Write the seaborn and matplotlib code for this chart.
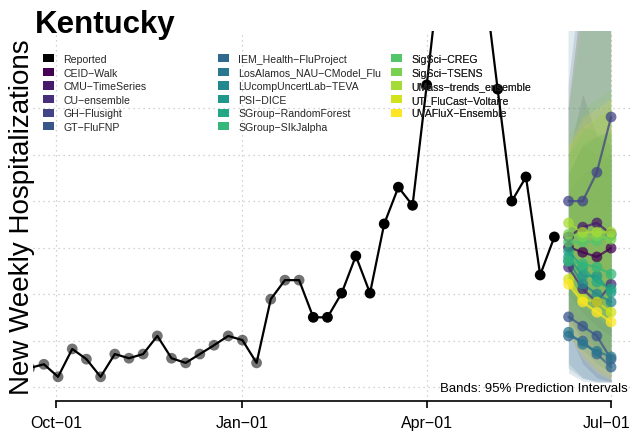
import numpy as np
import pandas as pd
import matplotlib
matplotlib.use("Agg")
import matplotlib.pyplot as plt
import matplotlib.dates as mdates
import matplotlib.transforms as mtransforms
from matplotlib.patches import Patch
import seaborn as sns

sns.set_theme(style="white")
plt.rcParams["font.family"] = ["Liberation Sans", "DejaVu Sans"]

# reported weekly hospitalizations (older weeks drawn faded)
report_dates = pd.date_range("2023-09-18", "2024-06-03", freq="7D")
reported = [141, 149, 122, 182, 160, 122, 171, 162, 171, 210,
            162, 152, 171, 190, 210, 201, 152, 289, 330, 330,
            250, 250, 302, 382, 302, 451, 530, 491, 750, 1020,
            1171, 1128, 990, 741, 500, 552, 341, 423]
n_faded = 20

models = ["CEID−Walk", "CMU−TimeSeries", "CU−ensemble", "GH−Flusight", "GT−FluFNP",
          "IEM_Health−FluProject", "LosAlamos_NAU−CModel_Flu", "LUcompUncertLab−TEVA",
          "PSI−DICE", "SGroup−RandomForest", "SGroup−SIkJalpha", "SigSci−CREG",
          "SigSci−TSENS", "UMass−trends_ensemble", "UT_FluCast−Voltaire", "UVAFluX−Ensemble"]

fc_dates = pd.to_datetime(["2024-06-10", "2024-06-17", "2024-06-24", "2024-07-01"])
fc_median = [
    [401, 390, 380, 399], [423, 444, 453, 429], [358, 311, 283, 321], [500, 500, 562, 681],
    [251, 231, 210, 160], [210, 199, 171, 143], [218, 192, 177, 165], [371, 322, 300, 283],
    [380, 339, 339, 304], [392, 358, 326, 311], [371, 365, 358, 343], [412, 412, 414, 425],
    [429, 423, 425, 418], [453, 433, 433, 433], [332, 289, 283, 261], [321, 283, 261, 240],
]
fc_lower = [
    [250, 200, 170, 150], [300, 260, 230, 210], [220, 150, 120, 110], [330, 280, 260, 250],
    [150, 120, 111, 111], [130, 113, 110, 110], [140, 118, 112, 112], [240, 180, 150, 130],
    [260, 210, 180, 160], [270, 220, 190, 170], [280, 240, 210, 190], [300, 270, 250, 240],
    [310, 280, 260, 240], [320, 280, 250, 230], [220, 170, 140, 120], [210, 160, 130, 115],
]
fc_upper = [
    [700, 950, 1100, 1300], [600, 730, 640, 620], [560, 620, 600, 600], [750, 1000, 1200, 1400],
    [560, 620, 640, 650], [520, 560, 580, 600], [900, 1000, 1100, 1200], [560, 620, 640, 650],
    [600, 650, 680, 700], [620, 660, 650, 640], [600, 640, 630, 620], [700, 900, 1000, 1100],
    [640, 700, 720, 740], [720, 950, 1000, 1100], [620, 660, 680, 700], [620, 680, 700, 720],
]

y_grid = [100, 200, 300, 400, 500, 600, 700]
x_ticks = pd.to_datetime(["2023-10-01", "2024-01-01", "2024-04-01", "2024-07-01"])
x_labels = ["Oct−01", "Jan−01", "Apr−01", "Jul−01"]

palette = sns.color_palette(list(plt.cm.viridis(np.linspace(0, 1, len(models)))))

fig = plt.figure(figsize=(6.32, 4.35), dpi=100)
ax = fig.add_axes([33 / 632, 33 / 435, 1 - 33 / 632, 370 / 435])

# prediction bands
for i, m in enumerate(models):
    ax.fill_between(fc_dates, fc_lower[i], fc_upper[i], color=palette[i], alpha=0.15, lw=0)

# reported line and points
rep = pd.DataFrame({"date": report_dates, "value": reported})
sns.lineplot(data=rep, x="date", y="value", color="black", lw=1.6, ax=ax)
sns.scatterplot(data=rep.iloc[:n_faded], x="date", y="value", color="black", alpha=0.55,
                s=60, edgecolor="none", ax=ax)
sns.scatterplot(data=rep.iloc[n_faded:], x="date", y="value", color="black",
                s=60, edgecolor="none", ax=ax, zorder=4)

# forecast medians
fc = pd.DataFrame([
    {"model": m, "date": d, "value": v}
    for m, vals in zip(models, fc_median) for d, v in zip(fc_dates, vals)
])
sns.lineplot(data=fc, x="date", y="value", hue="model", hue_order=models, palette=palette,
             lw=1.6, alpha=0.75, legend=False, ax=ax)
sns.scatterplot(data=fc, x="date", y="value", hue="model", hue_order=models, palette=palette,
                s=60, alpha=0.75, edgecolor="none", legend=False, ax=ax, zorder=5)

ax.set_xlim(pd.Timestamp("2023-09-19 15:00"), pd.Timestamp("2024-07-11 08:00"))
ax.set_ylim(70, 866)
ax.set_yticks(y_grid)
ax.set_yticklabels([])
ax.tick_params(axis="y", length=0)
ax.set_xticks(x_ticks)
ax.set_xticklabels(x_labels, fontsize=11.5, color="black")
ax.tick_params(axis="x", direction="out", length=5, width=1.2, color="black", pad=5, bottom=True)
# keep the last date label inside the canvas
last = ax.get_xticklabels()[-1]
last.set_transform(last.get_transform() + mtransforms.ScaledTranslation(-5 / 100, 0, fig.dpi_scale_trans))
ax.grid(True, color="#c4c4c4", linestyle=(0, (1, 3)), lw=0.9)
ax.set_axisbelow(True)
for side in ["top", "right", "left"]:
    ax.spines[side].set_visible(False)
ax.spines["bottom"].set_color("black")
ax.spines["bottom"].set_linewidth(1.2)
ax.spines["bottom"].set_bounds(mdates.date2num(x_ticks[0]), mdates.date2num(x_ticks[-1]))

ax.set_xlabel("")
ax.set_ylabel("New Weekly Hospitalizations", fontsize=20, color="black")
ax.yaxis.set_label_coords(0.003, 0.5)

ax.text(0.993, 0.027, "Bands: 95% Prediction Intervals", transform=ax.transAxes,
        ha="right", va="baseline", fontsize=9.5, color="black")

fig.text(35 / 632, 1 - 33 / 435, "Kentucky", fontsize=22.5, fontweight="bold",
         ha="left", va="baseline", color="black")

# legend in three columns
labels = ["Reported"] + models
colors = ["black"] + list(palette)
cols = [range(0, 6), range(6, 12), range(12, 17)]
col_x = [43, 218, 391]
for c, xpx in zip(cols, col_x):
    handles = [Patch(facecolor=colors[k], edgecolor="none", label=labels[k]) for k in c]
    leg = ax.legend(handles=handles, loc="upper left",
                    bbox_to_anchor=((xpx - 33) / 599, (402 - 55) / 370),
                    frameon=False, fontsize=7.6, handlelength=1.0, handleheight=0.8,
                    handletextpad=0.9, labelspacing=0.34, borderpad=0, borderaxespad=0)
    ax.add_artist(leg)

fig.savefig("out.png", dpi=100)
